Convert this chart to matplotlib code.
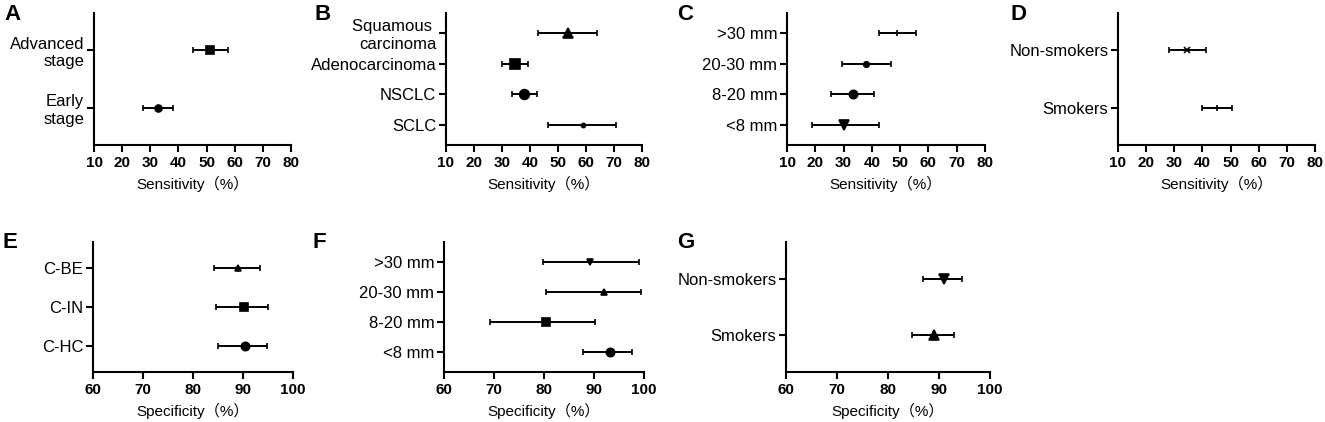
import matplotlib
matplotlib.use("Agg")
import matplotlib.pyplot as plt

plt.rcParams['font.family'] = ['Liberation Sans', 'Noto Sans CJK SC', 'DejaVu Sans']

# panel A - stage
a_labels = ["Advanced\nstage", "Early\nstage"]
a_mean = [51.3, 32.6]
a_low = [45.1, 27.3]
a_high = [57.5, 38.1]

# panel B - histology
b_labels = ["Squamous \ncarcinoma", "Adenocarcinoma", "NSCLC", "SCLC"]
b_mean = [53.5, 34.8, 37.7, 58.8]
b_low = [43.0, 29.9, 33.5, 46.6]
b_high = [63.9, 39.4, 42.5, 70.8]

# panel C - nodule size (sensitivity)
c_labels = [">30 mm", "20-30 mm", "8-20 mm", "<8 mm"]
c_mean = [48.9, 37.9, 33.2, 30.2]
c_low = [42.5, 29.3, 25.5, 18.7]
c_high = [55.6, 46.7, 40.9, 42.6]

# panel D - smoking (sensitivity)
d_labels = ["Non-smokers", "Smokers"]
d_mean = [34.5, 45.1]
d_low = [28.0, 39.8]
d_high = [41.1, 50.5]

# panel E - controls
e_labels = ["C-BE", "C-IN", "C-HC"]
e_mean = [89.0, 90.1, 90.3]
e_low = [84.2, 84.5, 85.0]
e_high = [93.3, 94.9, 94.7]

# panel F - nodule size (specificity)
f_labels = [">30 mm", "20-30 mm", "8-20 mm", "<8 mm"]
f_mean = [89.2, 91.9, 80.4, 93.2]
f_low = [79.7, 80.4, 69.2, 87.7]
f_high = [98.9, 99.3, 90.2, 97.6]

# panel G - smoking (specificity)
g_labels = ["Non-smokers", "Smokers"]
g_mean = [91.0, 89.0]
g_low = [86.9, 84.7]
g_high = [94.6, 92.9]

sens_ticks = [10, 20, 30, 40, 50, 60, 70, 80]
spec_ticks = [60, 70, 80, 90, 100]

W, H = 1325, 422
fig = plt.figure(figsize=(W / 100, H / 100), dpi=100)


def panel(letter, box, label_x, labels, mean, low, high, markers, sizes, ticks, xlabel):
    x0, x1, y0, y1 = box
    ax = fig.add_axes([x0 / W, 1 - y1 / H, (x1 - x0) / W, (y1 - y0) / H])
    n = len(labels)
    for i in range(n):
        y = n - 1 - i
        ax.errorbar(mean[i], y, xerr=[[mean[i] - low[i]], [high[i] - mean[i]]],
                    fmt=markers[i], ms=sizes[i], color="black", ecolor="black",
                    elinewidth=1.4, capsize=2.5, capthick=1.4, mew=1.2)
    ax.set_ylim(-0.65, n - 1 + 0.65)
    ax.set_yticks(range(n))
    ax.set_yticklabels(labels[::-1], fontsize=12, multialignment="right")
    ax.set_xlim(ticks[0], ticks[-1])
    ax.set_xticks(ticks)
    ax.set_xticklabels([str(t) for t in ticks], fontsize=11, fontweight="bold")
    ax.set_xlabel(xlabel, fontsize=11, labelpad=4)
    for s in ["top", "right"]:
        ax.spines[s].set_visible(False)
    for s in ["left", "bottom"]:
        ax.spines[s].set_linewidth(1.5)
    ax.tick_params(axis="y", length=5, width=1.5, pad=2)
    ax.tick_params(axis="x", length=5, width=1.5, pad=3)
    fig.text(label_x / W, 1 - (y0 + 1) / H, letter, fontsize=16, fontweight="bold",
             ha="left", va="center", family="Liberation Sans")
    return ax


sens = "Sensitivity（%）"
spec = "Specificity（%）"

panel("A", (94, 291, 13, 145), 4, a_labels, a_mean, a_low, a_high,
      ["s", "o"], [6, 5], sens_ticks, sens)
panel("B", (446, 642, 13, 145), 315, b_labels, b_mean, b_low, b_high,
      ["^", "s", "o", "o"], [7, 7, 7, 3], sens_ticks, sens)
panel("C", (787, 985, 13, 145), 677, c_labels, c_mean, c_low, c_high,
      ["+", "o", "o", "v"], [4, 4, 6, 7], sens_ticks, sens)
panel("D", (1118, 1315, 13, 145), 1010, d_labels, d_mean, d_low, d_high,
      ["x", "+"], [4, 4], sens_ticks, sens)
panel("E", (93, 293, 242, 372), 3, e_labels, e_mean, e_low, e_high,
      ["^", "s", "o"], [5, 6, 6], spec_ticks, spec)
panel("F", (444, 644, 242, 372), 313, f_labels, f_mean, f_low, f_high,
      ["v", "^", "s", "o"], [5, 5, 6, 6], spec_ticks, spec)
panel("G", (786, 990, 242, 372), 677, g_labels, g_mean, g_low, g_high,
      ["v", "^"], [7, 7], spec_ticks, spec)

fig.savefig("out.png", dpi=100, facecolor="white")
